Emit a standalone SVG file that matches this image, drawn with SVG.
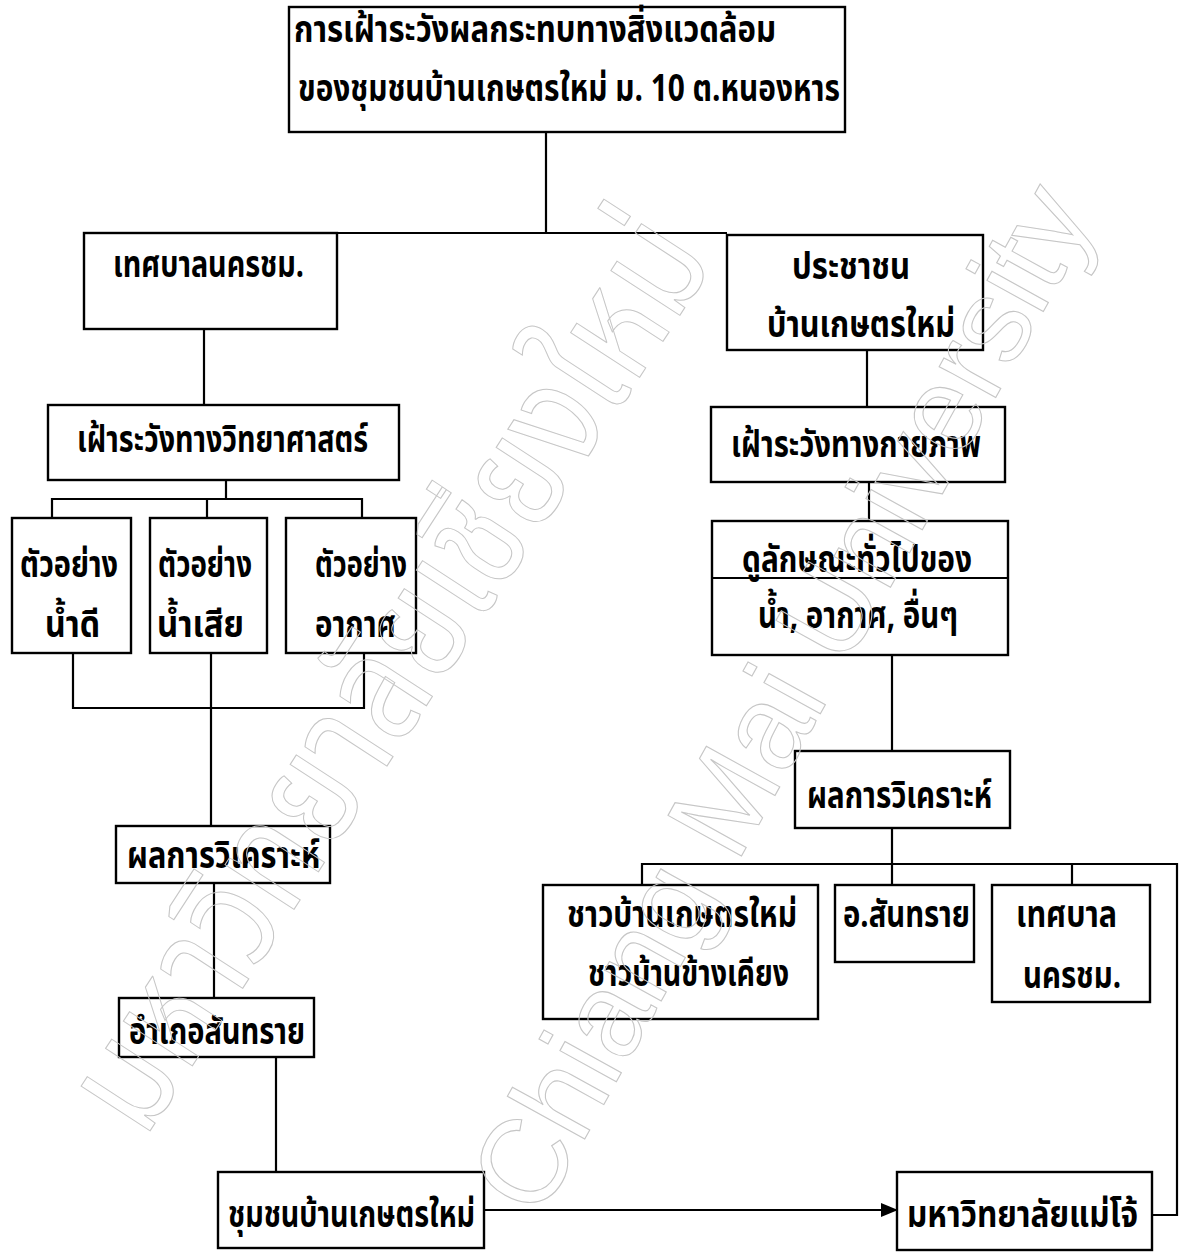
<svg xmlns="http://www.w3.org/2000/svg" width="1191" height="1252" viewBox="0 0 1191 1252">
<style>
.box{fill:#fff;stroke:#000;stroke-width:2.4}
.ln{fill:none;stroke:#000;stroke-width:2.2}
.t{font-family:"Noto Sans Thai","Noto Sans Thai UI","Noto Sans","DejaVu Sans",sans-serif;font-weight:bold;font-size:38px;fill:#000}
.wm{font-weight:normal;fill:none;stroke:#c6c6c6;stroke-width:1.1}
.wmt{font-family:"Noto Sans Thai","Noto Sans","DejaVu Sans",sans-serif;font-size:150px}
.wme{font-family:"Liberation Sans",Arial,sans-serif;font-size:122px}
</style>
<defs>
<marker id="arr" markerWidth="18" markerHeight="14" refX="16" refY="7" orient="auto" markerUnits="userSpaceOnUse">
<path d="M0,0 L17,7 L0,14 Z" fill="#000"/>
</marker>
</defs>
<rect width="1191" height="1252" fill="#fff"/>
<g id="connectors">
<path class="ln" d="M546,132 V233 M337,233 H727"/>
<path class="ln" d="M204,329 V405"/>
<path class="ln" d="M226,480 V499 M52,518 V499 H362 V518 M207,499 V518"/>
<path class="ln" d="M73,653 V708 H364 V653 M211,653 V826"/>
<path class="ln" d="M214,883 V998"/>
<path class="ln" d="M276,1057 V1172"/>
<path class="ln" d="M484,1210 H897" marker-end="url(#arr)"/>
<path class="ln" d="M867,350 V407"/>
<path class="ln" d="M869,482 V521"/>
<path class="ln" d="M892,655 V751"/>
<path class="ln" d="M892,828 V864 M642,885 V864 H1177 V1215 H1152 M892,864 V885 M1072,864 V885"/>
</g>
<g id="n-top">
<rect class="box" x="289" y="7" width="556" height="125"/>
<text class="t" x="294" y="42" textLength="482" lengthAdjust="spacingAndGlyphs">การเฝ้าระวังผลกระทบทางสิ่งแวดล้อม</text>
<text class="t" x="298" y="101" textLength="542" lengthAdjust="spacingAndGlyphs">ของชุมชนบ้านเกษตรใหม่ ม. 10 ต.หนองหาร</text>
</g>
<g id="n-muni">
<rect class="box" x="84" y="233" width="253" height="96"/>
<text class="t" x="113" y="277" textLength="191" lengthAdjust="spacingAndGlyphs">เทศบาลนครชม.</text>
</g>
<g id="n-sci">
<rect class="box" x="48" y="405" width="351" height="75"/>
<text class="t" x="77" y="452" textLength="291" lengthAdjust="spacingAndGlyphs">เฝ้าระวังทางวิทยาศาสตร์</text>
</g>
<g id="n-s1">
<rect class="box" x="12" y="518" width="119" height="135"/>
<text class="t" x="20" y="577" textLength="98" lengthAdjust="spacingAndGlyphs">ตัวอย่าง</text>
<text class="t" x="45" y="637" textLength="55" lengthAdjust="spacingAndGlyphs">น้ำดี</text>
</g>
<g id="n-s2">
<rect class="box" x="150" y="518" width="117" height="135"/>
<text class="t" x="158" y="577" textLength="94" lengthAdjust="spacingAndGlyphs">ตัวอย่าง</text>
<text class="t" x="157" y="637" textLength="87" lengthAdjust="spacingAndGlyphs">น้ำเสีย</text>
</g>
<g id="n-s3">
<rect class="box" x="286" y="518" width="130" height="135"/>
<text class="t" x="315" y="577" textLength="92" lengthAdjust="spacingAndGlyphs">ตัวอย่าง</text>
<text class="t" x="315" y="637" textLength="81" lengthAdjust="spacingAndGlyphs">อากาศ</text>
</g>
<g id="n-res-l">
<rect class="box" x="116" y="826" width="214" height="57"/>
<text class="t" x="127" y="868" textLength="193" lengthAdjust="spacingAndGlyphs">ผลการวิเคราะห์</text>
</g>
<g id="n-amphoe">
<rect class="box" x="119" y="998" width="195" height="59"/>
<text class="t" x="129" y="1044" textLength="176" lengthAdjust="spacingAndGlyphs">อำเภอสันทราย</text>
</g>
<g id="n-community">
<rect class="box" x="218" y="1172" width="266" height="76"/>
<text class="t" x="228" y="1227" textLength="247" lengthAdjust="spacingAndGlyphs">ชุมชนบ้านเกษตรใหม่</text>
</g>
<g id="n-people">
<rect class="box" x="727" y="235" width="256" height="115"/>
<text class="t" x="792" y="279" textLength="118" lengthAdjust="spacingAndGlyphs">ประชาชน</text>
<text class="t" x="767" y="337" textLength="188" lengthAdjust="spacingAndGlyphs">บ้านเกษตรใหม่</text>
</g>
<g id="n-phys">
<rect class="box" x="711" y="407" width="294" height="75"/>
<text class="t" x="731" y="457" textLength="250" lengthAdjust="spacingAndGlyphs">เฝ้าระวังทางกายภาพ</text>
</g>
<g id="n-look">
<rect class="box" x="712" y="521" width="296" height="134"/>
<path class="ln" d="M712,578 H1008"/>
<text class="t" x="742" y="572" textLength="230" lengthAdjust="spacingAndGlyphs">ดูลักษณะทั่วไปของ</text>
<text class="t" x="758" y="628" textLength="200" lengthAdjust="spacingAndGlyphs">น้ำ, อากาศ, อื่นๆ</text>
</g>
<g id="n-res-r">
<rect class="box" x="795" y="751" width="215" height="77"/>
<text class="t" x="807" y="808" textLength="185" lengthAdjust="spacingAndGlyphs">ผลการวิเคราะห์</text>
</g>
<g id="n-villagers">
<rect class="box" x="543" y="885" width="275" height="134"/>
<text class="t" x="567" y="927" textLength="230" lengthAdjust="spacingAndGlyphs">ชาวบ้านเกษตรใหม่</text>
<text class="t" x="588" y="986" textLength="201" lengthAdjust="spacingAndGlyphs">ชาวบ้านข้างเคียง</text>
</g>
<g id="n-sansai">
<rect class="box" x="835" y="885" width="139" height="77"/>
<text class="t" x="843" y="927" textLength="127" lengthAdjust="spacingAndGlyphs">อ.สันทราย</text>
</g>
<g id="n-muni2">
<rect class="box" x="992" y="885" width="158" height="117"/>
<text class="t" x="1016" y="927" textLength="101" lengthAdjust="spacingAndGlyphs">เทศบาล</text>
<text class="t" x="1023" y="988" textLength="98" lengthAdjust="spacingAndGlyphs">นครชม.</text>
</g>
<g id="n-mju">
<rect class="box" x="897" y="1172" width="255" height="78"/>
<text class="t" x="907" y="1227" textLength="231" lengthAdjust="spacingAndGlyphs">มหาวิทยาลัยแม่โจ้</text>
</g>
<g id="watermark">
<text class="wm wmt" transform="translate(430,700) rotate(-57)" text-anchor="middle" textLength="1050" lengthAdjust="spacingAndGlyphs">มหาวิทยาลัยเชียงใหม่</text>
<text class="wm wme" transform="translate(818,718) rotate(-61)" text-anchor="middle" textLength="1150" lengthAdjust="spacingAndGlyphs">Chiang Mai University</text>
</g>
</svg>
